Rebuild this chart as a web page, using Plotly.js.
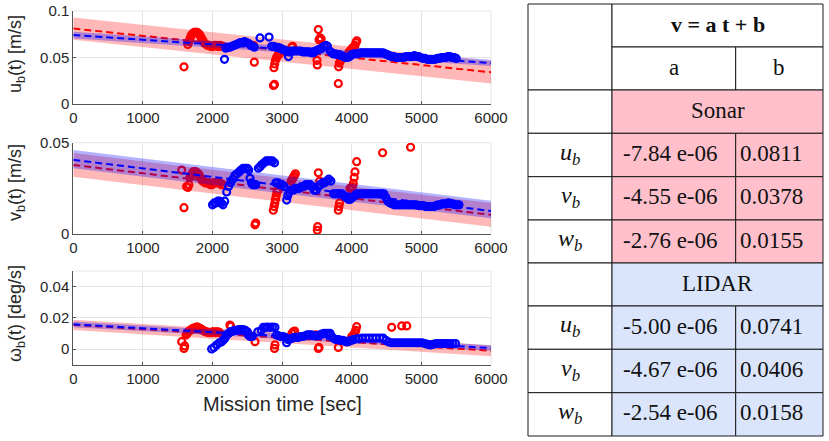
<!DOCTYPE html>
<html>
<head>
<meta charset="utf-8">
<script src="https://cdn.plot.ly/plotly-3.0.1.min.js"></script>
<style>html,body{margin:0;padding:0;background:#fff}#c{width:829px;height:441px}</style>
</head>
<body>
<div id="c"></div>
<script>
// ---------------- DATA ----------------
var xTicks = [0, 1000, 2000, 3000, 4000, 5000, 6000];
var bandT = [0, 6000];

// fitted lines (values at t=0 and t=6000)
var sonarFitU = [0.0811, 0.0341], lidarFitU = [0.0741, 0.0441];
var sonarFitV = [0.0378, 0.0105], lidarFitV = [0.0406, 0.0126];
var sonarFitW = [0.0155, -0.0011], lidarFitW = [0.0158, 0.0006];

// confidence bands (upper / lower at t=0 and t=6000)
var sonarBandUHi = [0.093, 0.046], sonarBandULo = [0.069, 0.022];
var lidarBandUHi = [0.0778, 0.0476], lidarBandULo = [0.0705, 0.0408];
var sonarBandVHi = [0.0443, 0.0170], sonarBandVLo = [0.0313, 0.0040];
var lidarBandVHi = [0.0460, 0.0182], lidarBandVLo = [0.0360, 0.0086];
var sonarBandWHi = [0.0188, 0.0024], sonarBandWLo = [0.0122, -0.0046];
var lidarBandWHi = [0.0176, 0.0024], lidarBandWLo = [0.0140, -0.0012];

// Sonar u_b [t, value]
var sonarU = [[1590,0.040],[1645,0.064],[1660,0.067],[1675,0.070],[1690,0.073],[1705,0.075],[1720,0.076],[1735,0.077],[1750,0.077],[1765,0.077],
[1780,0.077],[1795,0.076],[1810,0.075],[1825,0.073],[1840,0.071],[1855,0.069],[1870,0.067],[1890,0.065],[1910,0.064],[1930,0.063],
[1950,0.063],[1970,0.062],[1990,0.062],[2010,0.062],[2030,0.063],[2050,0.063],[2070,0.062],[2090,0.062],[2110,0.063],[2130,0.062],
[2150,0.062],[2590,0.063],[2600,0.045],[2875,0.020],[2890,0.021],[2882,0.039],[2892,0.043],[2905,0.047],[2920,0.050],[2935,0.052],
[2950,0.053],[2965,0.054],[3137,0.061],[3150,0.062],[3470,0.056],[3500,0.047],[3505,0.042],[3520,0.080],[3530,0.069],[3545,0.071],
[3560,0.070],[3807,0.022],[3812,0.040],[3822,0.044],[3835,0.046],[3850,0.048],[3960,0.056],[3985,0.058],[4005,0.060],[4025,0.061],
[4045,0.063],[4060,0.066],[4072,0.068]];

// LIDAR u_b
var lidarU = [[2172,0.048],[2682,0.071],[2812,0.072],[3090,0.051],[3448,0.055],
[2190,0.060],[2220,0.061],[2250,0.061],[2280,0.062],[2310,0.063],[2340,0.064],[2370,0.065],[2400,0.066],[2430,0.066],[2460,0.067],
[2490,0.066],[2520,0.065],[2550,0.063],[2580,0.062],[2600,0.061],
[2850,0.062],[2880,0.062],[2910,0.061],[2940,0.061],[2970,0.060],[3000,0.059],[3030,0.058],[3060,0.057],[3090,0.056],[3120,0.056],
[3150,0.057],[3180,0.057],[3210,0.057],[3240,0.057],[3270,0.057],[3300,0.056],[3330,0.056],[3360,0.056],[3390,0.056],[3420,0.055],
[3450,0.056],[3480,0.057],[3510,0.058],[3540,0.059],[3570,0.060],[3600,0.062],[3630,0.063],[3650,0.062],
[3700,0.056],[3730,0.054],[3760,0.054],[3790,0.053],[3820,0.053],[3850,0.052],[3880,0.051],[3910,0.050],[3940,0.050],[3970,0.051],
[4000,0.053],[4030,0.054],[4060,0.054],[4090,0.054],[4120,0.055],[4150,0.055],[4180,0.055],[4210,0.055],[4240,0.055],[4270,0.055],
[4300,0.055],[4330,0.055],[4360,0.055],[4390,0.055],[4420,0.055],[4450,0.055],[4480,0.054],[4510,0.053],[4540,0.052],[4570,0.051],
[4600,0.051],[4630,0.050],[4660,0.050],[4690,0.050],[4720,0.050],[4750,0.050],[4780,0.051],[4810,0.051],[4840,0.051],[4870,0.051],
[4900,0.052],[4930,0.051],[4960,0.051],[4990,0.050],[5020,0.049],[5050,0.049],[5080,0.048],[5110,0.048],[5140,0.048],[5170,0.048],
[5200,0.048],[5230,0.049],[5260,0.049],[5290,0.050],[5320,0.050],[5350,0.050],[5380,0.051],[5410,0.051],[5440,0.050],[5470,0.050],
[5500,0.049]];

// Sonar v_b
var sonarV = [[1557,0.035],[1590,0.0144],[1628,0.026],[1645,0.0255],[1660,0.027],[1675,0.031],[1690,0.032],[1705,0.033],[1720,0.034],[1735,0.034],
[1750,0.034],[1765,0.034],[1780,0.033],[1795,0.033],[1810,0.032],[1825,0.031],[1840,0.030],[1855,0.029],[1870,0.029],[1890,0.028],
[1910,0.028],[1930,0.028],[1950,0.028],[1970,0.027],[1990,0.027],[2010,0.028],[2030,0.028],[2050,0.028],[2070,0.028],[2090,0.028],
[2110,0.028],[2130,0.027],[2150,0.027],[2610,0.005],[2620,0.006],[2873,0.013],[2885,0.015],[2895,0.017],[2905,0.019],[2915,0.021],
[2925,0.023],[2940,0.024],[3115,0.027],[3130,0.029],[3145,0.030],[3160,0.031],[3175,0.032],[3190,0.033],[3505,0.002],[3510,0.004],
[3520,0.0335],[3540,0.029],[3807,0.013],[3815,0.015],[3825,0.017],[3975,0.025],[3995,0.025],[4010,0.026],[4022,0.0277],[4035,0.031],
[4046,0.034],[4070,0.0396],[4443,0.0445],[4845,0.0475]];

// LIDAR v_b
var lidarV = [[2000,0.016],[2025,0.017],[2050,0.017],[2075,0.018],[2100,0.018],[2125,0.017],[2150,0.016],[2175,0.018],[2203,0.023],[2230,0.026],
[2260,0.028],[2290,0.030],[2320,0.032],[2350,0.033],[2380,0.034],[2410,0.035],[2440,0.036],[2470,0.036],[2500,0.036],[2520,0.035],
[2538,0.0305],[2560,0.028],[2580,0.027],[2600,0.027],[2620,0.027],[2658,0.036],[2685,0.037],[2710,0.038],[2740,0.039],[2770,0.040],
[2800,0.040],[2830,0.040],[2860,0.040],[2890,0.039],[2910,0.028],[2940,0.028],[2970,0.027],[3000,0.027],[3030,0.026],[3065,0.0186],
[3080,0.021],[3100,0.023],[3130,0.024],[3160,0.024],[3190,0.025],[3220,0.025],[3250,0.025],[3280,0.026],[3310,0.026],[3340,0.027],
[3370,0.027],[3400,0.027],[3430,0.026],[3460,0.024],[3490,0.024],[3520,0.026],[3550,0.027],[3580,0.028],[3610,0.028],[3640,0.029],
[3670,0.030],[3700,0.029],[3740,0.022],[3770,0.022],[3800,0.022],[3830,0.022],[3860,0.022],[3890,0.021],[3920,0.020],[3950,0.019],
[3980,0.019],[4010,0.020],[4040,0.021],[4070,0.022],[4100,0.022],[4130,0.022],[4160,0.022],[4190,0.022],[4220,0.022],[4250,0.022],
[4280,0.022],[4310,0.022],[4340,0.022],[4370,0.022],[4400,0.022],[4430,0.022],[4460,0.022],[4490,0.020],[4520,0.018],[4550,0.017],
[4580,0.0165],[4610,0.016],[4640,0.016],[4670,0.016],[4700,0.016],[4730,0.016],[4760,0.016],[4790,0.016],[4820,0.016],[4850,0.016],
[4880,0.016],[4910,0.016],[4940,0.0158],[4970,0.0155],[5000,0.0155],[5030,0.0155],[5060,0.015],[5090,0.015],[5120,0.015],[5150,0.015],
[5180,0.015],[5210,0.0155],[5240,0.016],[5270,0.016],[5300,0.0165],[5330,0.0165],[5360,0.0165],[5390,0.017],[5420,0.0165],[5450,0.0165],
[5480,0.016],[5510,0.016],[5540,0.016]];

// Sonar omega_b
var sonarW = [[1557,0.0047],[1590,0.0004],[1600,0.002],[1620,0.009],[1635,0.010],[1650,0.011],[1665,0.0115],[1680,0.012],[1695,0.0125],[1710,0.013],
[1725,0.013],[1740,0.0135],[1755,0.0135],[1770,0.014],[1785,0.014],[1800,0.0135],[1815,0.013],[1830,0.013],[1845,0.0125],[1860,0.012],
[1880,0.0115],[1900,0.011],[1920,0.011],[1940,0.0105],[1960,0.0105],[1980,0.0105],[2000,0.011],[2020,0.011],[2040,0.0105],[2060,0.011],
[2080,0.011],[2100,0.0105],[2250,0.0154],[2262,0.0145],[2610,0.0047],[2890,0.0004],[2897,0.0026],[3140,0.010],[3160,0.011],[3180,0.0115],
[3480,0.009],[3520,0.0004],[3530,0.001],[3807,0.001],[4000,0.008],[4025,0.009],[4045,0.0105],[4058,0.012],[4070,0.0143],[4573,0.0139],
[4717,0.0148],[4790,0.0148]];

// LIDAR omega_b
var lidarW = [[1987,0.000],[2020,0.001],[2059,0.0026],[2100,0.004],[2131,0.0047],[2160,0.006],[2180,0.007],[2200,0.009],[2230,0.010],[2260,0.011],
[2290,0.0115],[2320,0.012],[2350,0.012],[2380,0.0125],[2410,0.0125],[2440,0.0125],[2470,0.012],[2500,0.011],[2514,0.009],[2540,0.008],
[2570,0.008],[2650,0.011],[2700,0.012],[2730,0.0139],[2760,0.0139],[2790,0.014],[2825,0.0139],[2860,0.014],[2897,0.0139],[2920,0.009],
[2950,0.0085],[2980,0.008],[3010,0.008],[3040,0.0075],[3065,0.004],[3090,0.006],[3120,0.0065],[3150,0.007],[3180,0.0075],[3210,0.0075],
[3240,0.0075],[3270,0.008],[3300,0.008],[3330,0.0085],[3360,0.009],[3390,0.009],[3420,0.009],[3450,0.0085],[3480,0.0085],[3510,0.0085],
[3540,0.009],[3570,0.0095],[3600,0.010],[3630,0.010],[3660,0.010],[3690,0.010],[3720,0.0075],[3750,0.0065],[3780,0.006],[3810,0.006],
[3840,0.0055],[3870,0.0055],[3900,0.005],[3930,0.0045],[3960,0.005],[3990,0.0055],[4020,0.006],[4060,0.0065],[4100,0.0065],[4150,0.007],
[4200,0.007],[4250,0.007],[4300,0.007],[4350,0.007],[4400,0.007],[4450,0.007],[4490,0.0055],[4530,0.0045],[4570,0.004],[4610,0.004],
[4650,0.004],[4690,0.004],[4730,0.004],[4770,0.004],[4810,0.004],[4850,0.004],[4890,0.004],[4930,0.004],[4970,0.004],[5010,0.004],
[5050,0.0035],[5090,0.003],[5130,0.0026],[5170,0.003],[5210,0.0035],[5250,0.0035],[5290,0.0035],[5330,0.0035],[5370,0.0035],[5410,0.0035],
[5450,0.0035],[5490,0.0035]];

// Table
var tableTitle = 'v = a t + b';
var colHeads = ['a', 'b'];
var groupNames = ['Sonar', 'LIDAR'];
var rowNames = ['u', 'v', 'w'];
var sonarA = ['-7.84 e-06', '-4.55 e-06', '-2.76 e-06'];
var sonarB = ['0.0811', '0.0378', '0.0155'];
var lidarA = ['-5.00 e-06', '-4.67 e-06', '-2.54 e-06'];
var lidarB = ['0.0741', '0.0406', '0.0158'];

// ---------------- STYLE / LAYOUT ----------------
var RED = 'rgb(255,0,0)', BLUE = 'rgb(0,0,255)';
var RED_BAND = 'rgba(255,0,0,0.28)', BLUE_BAND = 'rgba(0,0,255,0.30)';
var PINK = 'rgb(255,192,203)', LBLUE = 'rgb(218,229,252)';
var W = 829, H = 441;
var plotX = [73.3, 491];
var plotY = [[11, 104], [142.7, 234], [271, 364.6]];

function col(a, i) { return a.map(function (p) { return p[i]; }); }
function band(hi, lo, ax, color) {
  return { x: [bandT[0], bandT[1], bandT[1], bandT[0], bandT[0]],
           y: [hi[0], hi[1], lo[1], lo[0], hi[0]],
           xaxis: ax[0], yaxis: ax[1], mode: 'none', fill: 'toself',
           fillcolor: color, hoverinfo: 'skip', showlegend: false };
}
function pts(arr, ax, color) {
  return { x: col(arr, 0), y: col(arr, 1), xaxis: ax[0], yaxis: ax[1], mode: 'markers',
           marker: { symbol: 'circle-open', size: 7, color: color, line: { width: 2.2, color: color } },
           showlegend: false, hoverinfo: 'skip', cliponaxis: true };
}
function fit(vals, ax, color) {
  return { x: bandT, y: vals, xaxis: ax[0], yaxis: ax[1], mode: 'lines',
           line: { color: color, width: 2, dash: '7px,4px' }, showlegend: false, hoverinfo: 'skip' };
}

var groups = [
  { ax: ['x', 'y'], sb: [sonarBandUHi, sonarBandULo], lb: [lidarBandUHi, lidarBandULo], s: sonarU, l: lidarU, sf: sonarFitU, lf: lidarFitU },
  { ax: ['x2', 'y2'], sb: [sonarBandVHi, sonarBandVLo], lb: [lidarBandVHi, lidarBandVLo], s: sonarV, l: lidarV, sf: sonarFitV, lf: lidarFitV },
  { ax: ['x3', 'y3'], sb: [sonarBandWHi, sonarBandWLo], lb: [lidarBandWHi, lidarBandWLo], s: sonarW, l: lidarW, sf: sonarFitW, lf: lidarFitW }
];
var data = [];
groups.forEach(function (g) {
  data.push(band(g.sb[0], g.sb[1], g.ax, RED_BAND));
  data.push(pts(g.s, g.ax, RED));
  data.push(fit(g.sf, g.ax, RED));
  data.push(band(g.lb[0], g.lb[1], g.ax, BLUE_BAND));
  data.push(pts(g.l, g.ax, BLUE));
  data.push(fit(g.lf, g.ax, BLUE));
});

var tickFont = { family: 'Liberation Sans, Arial, sans-serif', size: 15, color: '#262626' };
function xax(anchor) {
  return { domain: [plotX[0] / W, plotX[1] / W], range: [0, 6000], anchor: anchor,
           tickvals: xTicks, ticks: 'inside', ticklen: 3, tickcolor: '#555',
           showline: true, linecolor: '#555', linewidth: 1, zeroline: false,
           showgrid: true, gridcolor: '#e4e4e4', gridwidth: 1, tickfont: tickFont, fixedrange: true };
}
function yax(anchor, yi, range, tv) {
  return { domain: [1 - plotY[yi][1] / H, 1 - plotY[yi][0] / H], range: range, anchor: anchor,
           tickvals: tv, ticks: 'inside', ticklen: 3, tickcolor: '#555',
           showline: true, linecolor: '#555', linewidth: 1, zeroline: false,
           showgrid: true, gridcolor: '#e4e4e4', gridwidth: 1, tickfont: tickFont, fixedrange: true };
}

var shapes = [];
// light box edges (top, right) of each axes
plotY.forEach(function (py) {
  shapes.push({ type: 'line', xref: 'paper', yref: 'paper', x0: plotX[0] / W, x1: plotX[1] / W,
                y0: 1 - py[0] / H, y1: 1 - py[0] / H, line: { color: '#e4e4e4', width: 1 }, layer: 'below' });
  shapes.push({ type: 'line', xref: 'paper', yref: 'paper', x0: plotX[1] / W, x1: plotX[1] / W,
                y0: 1 - py[0] / H, y1: 1 - py[1] / H, line: { color: '#e4e4e4', width: 1 }, layer: 'below' });
});

// table geometry (pixel units on hidden axis x4/y4)
var cx = [528, 612, 735.7, 823];
var ry = [4, 47, 90, 133.3, 176.7, 220, 263, 306, 349.3, 392.7, 436];
function cell(c0, c1, r0, r1, fill) {
  shapes.push({ type: 'rect', xref: 'x4', yref: 'y4', x0: cx[c0], x1: cx[c1], y0: ry[r0], y1: ry[r1],
                fillcolor: fill, line: { color: '#1a1a1a', width: 1 }, layer: 'above' });
}
cell(0, 1, 0, 2, '#ffffff');
cell(1, 3, 0, 1, '#ffffff');
cell(1, 2, 1, 2, '#ffffff');
cell(2, 3, 1, 2, '#ffffff');
[[2, PINK], [6, LBLUE]].forEach(function (g) {
  var r = g[0];
  cell(0, 1, r, r + 1, '#ffffff');
  cell(1, 3, r, r + 1, g[1]);
  for (var k = 0; k < 3; k++) {
    cell(0, 1, r + 1 + k, r + 2 + k, '#ffffff');
    cell(1, 2, r + 1 + k, r + 2 + k, g[1]);
    cell(2, 3, r + 1 + k, r + 2 + k, g[1]);
  }
});

var serif = 'Liberation Serif, Times New Roman, serif';
var ann = [];
function txt(x, y, t, opt) {
  opt = opt || {};
  ann.push({ xref: 'x4', yref: 'y4', x: x, y: y, text: t, showarrow: false,
             xanchor: opt.xa || 'center', yanchor: 'middle',
             font: { family: serif, size: opt.size || 23, color: '#111' } });
}
function rowMid(r) { return (ry[r] + ry[r + 1]) / 2 - 1.5; }
txt((cx[1] + cx[3]) / 2, rowMid(0), '<b>' + tableTitle + '</b>', { size: 22 });
txt((cx[1] + cx[2]) / 2, rowMid(1), colHeads[0]);
txt((cx[2] + cx[3]) / 2, rowMid(1), colHeads[1]);
var tblVals = [[sonarA, sonarB], [lidarA, lidarB]];
[2, 6].forEach(function (r, gi) {
  txt((cx[1] + cx[3]) / 2, rowMid(r), groupNames[gi]);
  for (var k = 0; k < 3; k++) {
    txt((cx[0] + cx[1]) / 2, rowMid(r + 1 + k), '<i>' + rowNames[k] + '</i><sub><i>b</i></sub>', { size: 24 });
    txt(cx[1] + 9, rowMid(r + 1 + k), tblVals[gi][0][k], { xa: 'left' });
    txt(cx[2] + 2.5, rowMid(r + 1 + k), tblVals[gi][1][k], { xa: 'left' });
  }
});

// axis titles
var labFont = { family: 'Liberation Sans, Arial, sans-serif', size: 18, color: '#262626' };
var yTitles = ['u<sub>b</sub>(t) [m/s]', 'v<sub>b</sub>(t) [m/s]', 'ω<sub>b</sub>(t) [deg/s]'];
var yTitleCenters = [54, 183, 314];
yTitles.forEach(function (t, i) {
  ann.push({ xref: 'paper', yref: 'paper', x: 16 / W, y: 1 - yTitleCenters[i] / H, text: t, textangle: -90,
             showarrow: false, xanchor: 'center', yanchor: 'middle', font: labFont });
});
ann.push({ xref: 'paper', yref: 'paper', x: 282 / W, y: 1 - 404 / H, text: 'Mission time [sec]',
           showarrow: false, xanchor: 'center', yanchor: 'middle',
           font: { family: 'Liberation Sans, Arial, sans-serif', size: 20, color: '#262626' } });

var layout = {
  width: W, height: H, margin: { l: 0, r: 0, t: 0, b: 0, pad: 0 },
  paper_bgcolor: '#fff', plot_bgcolor: 'rgba(0,0,0,0)', showlegend: false,
  xaxis: xax('y'), yaxis: yax('x', 0, [0, 0.1], [0, 0.05, 0.1]),
  xaxis2: xax('y2'), yaxis2: yax('x2', 1, [0, 0.05], [0, 0.05]),
  xaxis3: xax('y3'), yaxis3: yax('x3', 2, [-0.01, 0.05], [0, 0.02, 0.04]),
  xaxis4: { domain: [514 / W, 1], range: [514, 829], visible: false, fixedrange: true, anchor: 'y4' },
  yaxis4: { domain: [0, 1], range: [441, 0], visible: false, fixedrange: true, anchor: 'x4' },
  shapes: shapes, annotations: ann
};
Plotly.newPlot('c', data, layout, { staticPlot: true, displayModeBar: false });
</script>
</body>
</html>
